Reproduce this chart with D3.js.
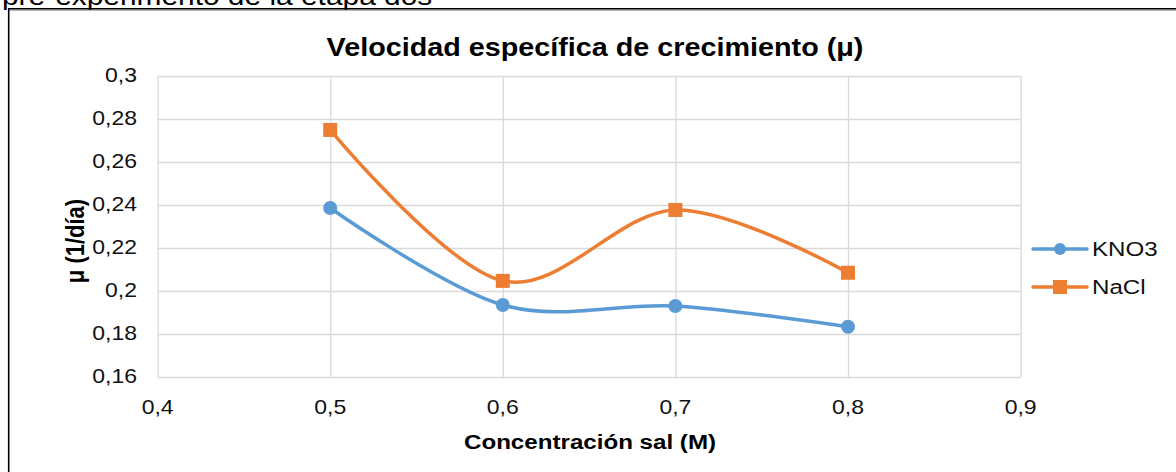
<!DOCTYPE html>
<html><head><meta charset="utf-8">
<script src="https://cdn.jsdelivr.net/npm/d3@7"></script>
<style>html,body{margin:0;padding:0;background:#fff;overflow:hidden}svg{display:block}</style>
</head><body>
<svg id="c" width="1176" height="472"></svg>
<script>
const concentrations = [0.5, 0.6, 0.7, 0.8];
const kno3 = [0.2386, 0.1935, 0.193, 0.1834];
const nacl = [0.2749, 0.2047, 0.2377, 0.2085];
const xTicks = [0.4, 0.5, 0.6, 0.7, 0.8, 0.9];
const yTicks = [0.16, 0.18, 0.2, 0.22, 0.24, 0.26, 0.28, 0.3];
const seriesNames = ["KNO3", "NaCl"];
const titleText = "Velocidad específica de crecimiento (μ)";
const xTitle = "Concentración sal (M)";
const yTitle = "μ (1/día)";
const topText = "pre-experimento de la etapa dos";

const svg = d3.select("#c");
const FONT = "'Liberation Sans', Arial, sans-serif";
const SX = 1.15;
const fmt = v => String(+v.toFixed(2)).replace(".", ",");

const x = d3.scaleLinear().domain([0.4, 0.9]).range([157.6, 1020.6]);
const y = d3.scaleLinear().domain([0.16, 0.3]).range([377, 76]);

function txt(g, px, py, s, opts) {
  return g.append("text")
    .attr("transform", `translate(${px},${py}) scale(${SX},1)`)
    .attr("font-family", FONT)
    .attr("font-size", opts.size)
    .attr("font-weight", opts.bold ? "bold" : "normal")
    .attr("fill", opts.fill || "#000")
    .attr("text-anchor", opts.anchor || "start")
    .text(s);
}

// top cut-off text (continuation of the page above the chart)
txt(svg, 2, 5, topText, {size: 26});

// border
svg.append("line").attr("x1", 8).attr("x2", 1176).attr("y1", 10.2).attr("y2", 10.2).attr("stroke", "#999").attr("stroke-width", 1);
svg.append("line").attr("x1", 8).attr("x2", 1176).attr("y1", 8.7).attr("y2", 8.7).attr("stroke", "#000").attr("stroke-width", 1.6);
svg.append("line").attr("x1", 8.7).attr("x2", 8.7).attr("y1", 8).attr("y2", 472).attr("stroke", "#000").attr("stroke-width", 1.6);

// gridlines
const grid = svg.append("g");
grid.append("g")
  .attr("transform", `translate(${x.range()[0]},0)`)
  .call(d3.axisLeft(y).tickValues(yTicks).tickSize(-(x.range()[1] - x.range()[0])).tickFormat(""))
  .call(g => g.select(".domain").remove())
  .call(g => g.selectAll("line").attr("stroke", "#d9d9d9").attr("stroke-width", 1.3));
grid.append("g")
  .attr("transform", `translate(0,${y.range()[0]})`)
  .call(d3.axisBottom(x).tickValues(xTicks).tickSize(-(y.range()[0] - y.range()[1])).tickFormat(""))
  .call(g => g.select(".domain").remove())
  .call(g => g.selectAll("line").attr("stroke", "#d9d9d9").attr("stroke-width", 1.3));

// tick labels
const lab = svg.append("g");
yTicks.forEach(v => txt(lab, 137, y(v) + 6, fmt(v), {size: 20, anchor: "end", fill: "#111"}));
xTicks.forEach(v => txt(lab, x(v), 414, fmt(v), {size: 20, anchor: "middle", fill: "#111"}));

// titles
txt(svg, 595, 56, titleText, {size: 25, bold: true, anchor: "middle"});
txt(svg, 590, 449, xTitle, {size: 21, bold: true, anchor: "middle"});
svg.append("text")
  .attr("transform", `translate(84,241) rotate(-90) scale(1,${SX})`)
  .attr("font-family", FONT).attr("font-size", 22).attr("font-weight", "bold")
  .attr("text-anchor", "middle").text(yTitle);

// series
const colors = ["#5b9bd5", "#ed7d31"];
const data = [kno3, nacl];
const line = d3.line().x(d => x(d[0])).y(d => y(d[1])).curve(d3.curveCardinal.tension(0));
data.forEach((vals, i) => {
  const pts = concentrations.map((c, j) => [c, vals[j]]);
  svg.append("path").attr("d", line(pts)).attr("fill", "none").attr("stroke", colors[i]).attr("stroke-width", 3.5).attr("stroke-linecap", "round");
  const g = svg.append("g");
  if (i === 0) {
    g.selectAll("circle").data(pts).join("circle").attr("cx", d => x(d[0])).attr("cy", d => y(d[1])).attr("r", 7).attr("fill", colors[i]);
  } else {
    g.selectAll("rect").data(pts).join("rect").attr("x", d => x(d[0]) - 7).attr("y", d => y(d[1]) - 7).attr("width", 14).attr("height", 14).attr("fill", colors[i]);
  }
});

// legend
const leg = svg.append("g");
const legY = [249, 287];
seriesNames.forEach((n, i) => {
  leg.append("line").attr("x1", 1033).attr("x2", 1087).attr("y1", legY[i]).attr("y2", legY[i]).attr("stroke", colors[i]).attr("stroke-width", 3.5).attr("stroke-linecap", "round");
  if (i === 0) leg.append("circle").attr("cx", 1060).attr("cy", legY[i]).attr("r", 6).attr("fill", colors[i]);
  else leg.append("rect").attr("x", 1053).attr("y", legY[i] - 7).attr("width", 14).attr("height", 14).attr("fill", colors[i]);
  txt(leg, 1092, legY[i] + 7, n, {size: 21, fill: "#111"});
});
</script>
</body></html>
